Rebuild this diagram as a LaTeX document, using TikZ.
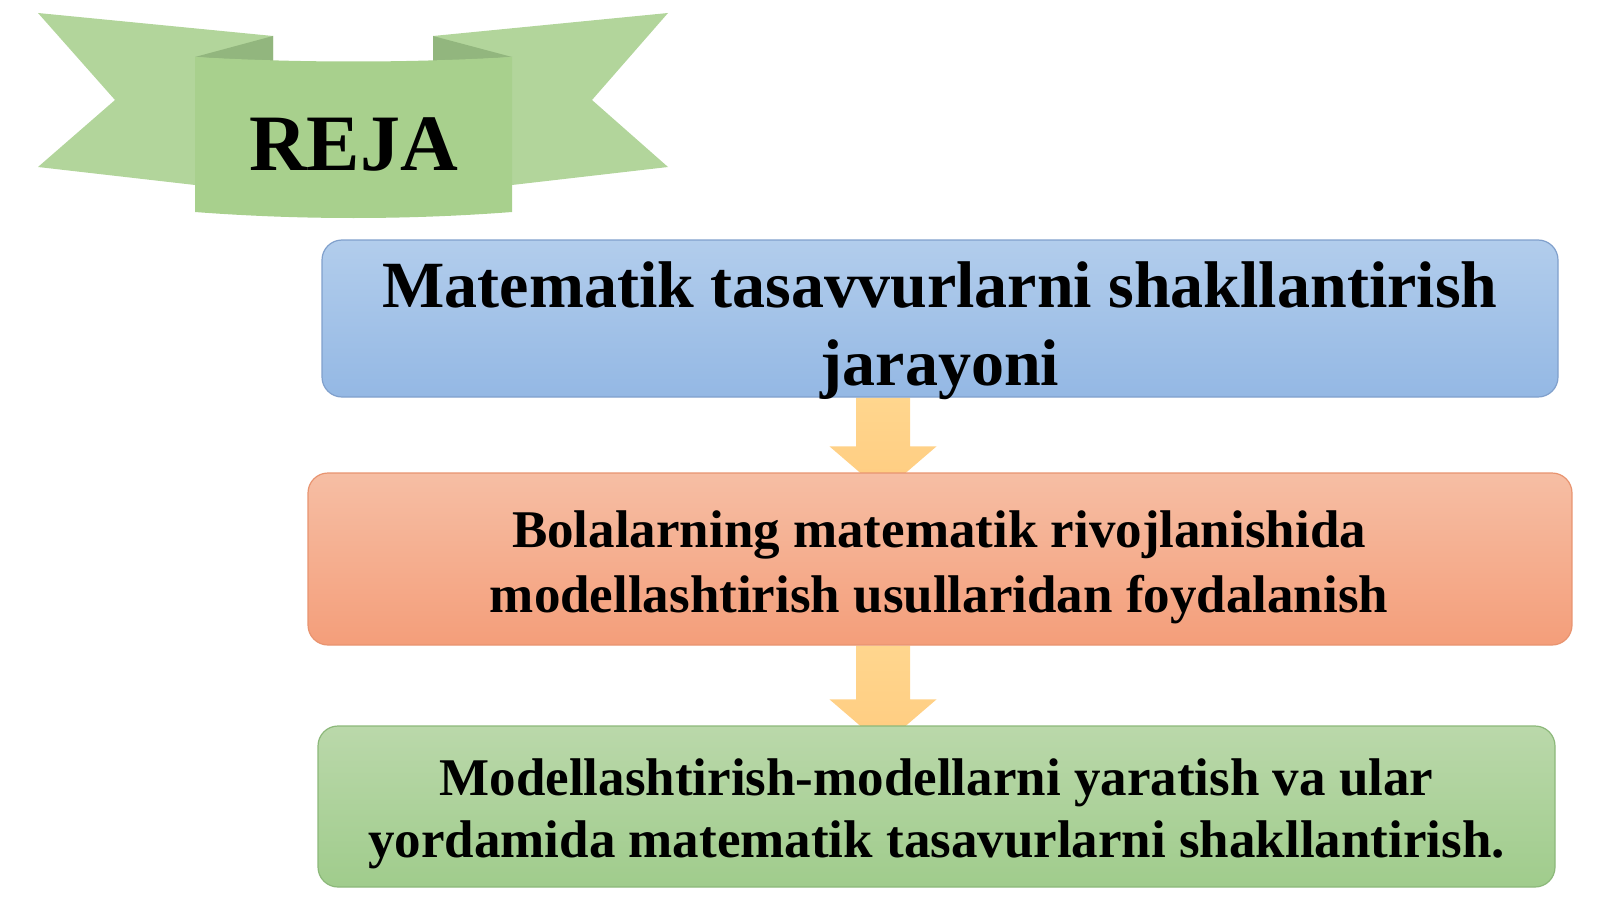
\documentclass[tikz,border=0pt]{standalone}
\usepackage{fontspec}
\setmainfont{Liberation Serif}
\usetikzlibrary{backgrounds,calc}

\definecolor{bluetop}{RGB}{178,205,236}
\definecolor{bluebot}{RGB}{148,184,228}
\definecolor{blueline}{RGB}{128,160,204}
\definecolor{redtop}{RGB}{246,190,164}
\definecolor{redbot}{RGB}{244,158,122}
\definecolor{redline}{RGB}{232,148,112}
\definecolor{greentop}{RGB}{186,216,170}
\definecolor{greenbot}{RGB}{160,204,140}
\definecolor{greenline}{RGB}{140,184,122}
\definecolor{arrowtop}{RGB}{255,214,142}
\definecolor{arrowbot}{RGB}{255,204,128}
\definecolor{ribbon}{RGB}{168,208,141}
\definecolor{ribbontail}{RGB}{178,213,155}
\definecolor{ribbonfold}{RGB}{146,182,126}

\tikzset{
  planbox/.style={rectangle, rounded corners=10pt, line width=0.6pt},
  plantext/.style={anchor=base, align=center, text=black},
}

\begin{document}
\begin{tikzpicture}[x=0.5pt,y=-0.5pt]
\useasboundingbox (0,0) rectangle (1600,899);
\fill[ribbontail] (38,13) -- (273,36) -- (273,150) -- (195,185) -- (38,167) -- (115,100) -- cycle;
\fill[ribbontail] (668,13) -- (433,36) -- (433,150) -- (512,185) -- (668,167) -- (592,100) -- cycle;
\fill[ribbonfold] (195,57) -- (273,36) -- (273,62) -- cycle;
\fill[ribbonfold] (512,57) -- (433,36) -- (433,62) -- cycle;
\fill[ribbon] (195,57) .. controls (300,63) and (407,63) .. (512,57) -- (512,212) .. controls (407,220) and (300,220) .. (195,212) -- cycle;
\node[plantext, font=\fontsize{40pt}{48pt}\selectfont\bfseries] (reja) at (353.5,170) {REJA};

\node[planbox, top color=bluetop, bottom color=bluebot, draw=blueline, minimum width=618pt, minimum height=78.5pt] (box1) at (940,318.5) {};
\node[planbox, top color=redtop, bottom color=redbot, draw=redline, minimum width=632pt, minimum height=86pt] (box2) at (940,559) {};
\node[planbox, top color=greentop, bottom color=greenbot, draw=greenline, minimum width=618.5pt, minimum height=80.5pt] (box3) at (936.5,806.5) {};

\node[plantext, font=\fontsize{33pt}{39pt}\selectfont\bfseries] (text1) at (940,385) {Matematik tasavvurlarni shakllantirish\\jarayoni};
\node[plantext, font=\fontsize{26.5pt}{32.5pt}\selectfont\bfseries] (text2) at (939,612) {Bolalarning matematik rivojlanishida\\modellashtirish usullaridan foydalanish};
\node[plantext, font=\fontsize{26.5pt}{31pt}\selectfont\bfseries] (text3) at (936.5,857) {Modellashtirish-modellarni yaratish va ular\\yordamida matematik tasavurlarni shakllantirish.};

\begin{scope}[on background layer]
\foreach \a/\b in {box1/box2,box2/box3}{
  \coordinate (s) at ($(\a.south)+(-57,0)$);
  \coordinate (e) at (s |- \b.north);
  \shade[top color=arrowtop, bottom color=arrowbot] ($(s)+(-27,0)$) -- ($(e)+(-27,-26)$) -- ($(e)+(-53.5,-26)$) -- ($(e)+(0,20)$) -- ($(e)+(53.5,-26)$) -- ($(e)+(27,-26)$) -- ($(s)+(27,0)$) -- cycle;
}
\end{scope}
\end{tikzpicture}
\end{document}
